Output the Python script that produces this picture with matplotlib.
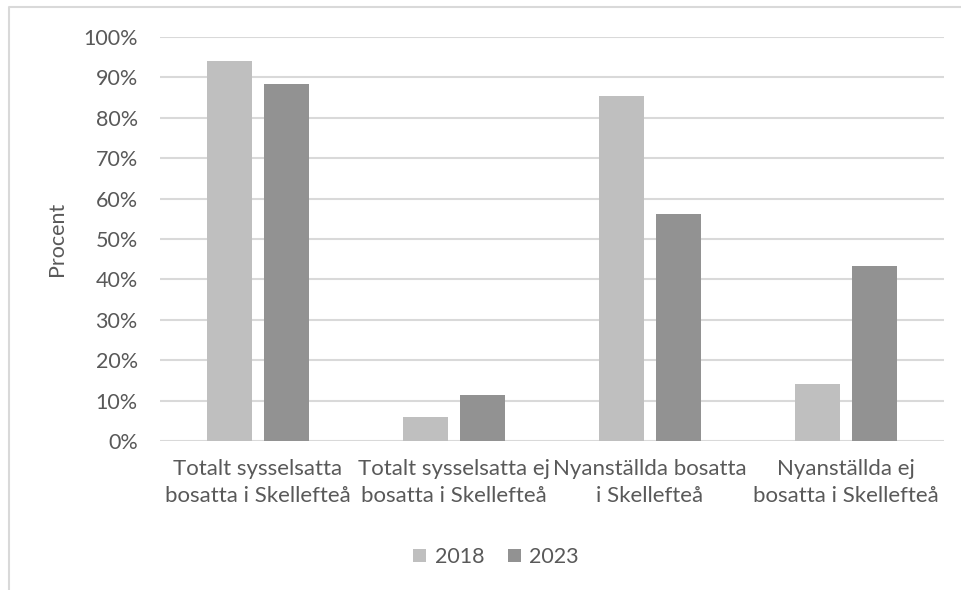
import matplotlib.pyplot as plt
import numpy as np
from matplotlib.lines import Line2D

plt.rcParams['font.family'] = ['Lato', 'DejaVu Sans']

categories = ["Totalt sysselsatta\nbosatta i Skellefteå",
              "Totalt sysselsatta ej\nbosatta i Skellefteå",
              "Nyanställda bosatta\ni Skellefteå",
              "Nyanställda ej\nbosatta i Skellefteå"]
years = ["2018", "2023"]
values_2018 = [0.940, 0.059, 0.854, 0.141]
values_2023 = [0.883, 0.113, 0.561, 0.434]
yticks = np.arange(0, 1.01, 0.1)

text_col = "#595959"
grid_col = "#D9D9D9"
colors = ["#BFBFBF", "#929292"]

fig = plt.figure(figsize=(9.62, 5.9), dpi=100)
ax = fig.add_axes([160 / 962, 1 - 441 / 590, 784 / 962, 404 / 590])

x = np.arange(len(categories))
w = 0.23
off = 0.145
ax.bar(x - off, values_2018, w, color=colors[0], label=years[0], zorder=3)
ax.bar(x + off, values_2023, w, color=colors[1], label=years[1], zorder=3)

ax.set_xlim(-0.5, len(categories) - 0.5)
ax.set_ylim(0, 1)
ax.set_yticks(yticks)
ax.set_yticklabels([f"{int(round(v * 100))}%" for v in yticks], fontsize=15.5)
ax.set_xticks(x)
ax.set_xticklabels(categories, linespacing=1.45, fontsize=16)
ax.grid(axis='y', color=grid_col, linewidth=1.5, zorder=0)
for s in ax.spines.values():
    s.set_visible(False)
ax.tick_params(axis='both', length=0, colors=text_col)
ax.tick_params(axis='y', pad=16)
ax.tick_params(axis='x', pad=13)
ax.set_ylabel("Procent", color=text_col, fontsize=15.5, labelpad=12)

leg = fig.legend(loc='center', bbox_to_anchor=(496 / 962, 1 - 557 / 590), ncol=2,
                 frameon=False, fontsize=15.5, handlelength=0.6, handleheight=0.6,
                 handletextpad=0.4, columnspacing=1.1)
for t in leg.get_texts():
    t.set_color(text_col)

# chart area border (only top and left visible)
fig.add_artist(Line2D([9 / 962, 9 / 962, 1], [0, 1 - 7 / 590, 1 - 7 / 590],
                      color=grid_col, linewidth=1.5, transform=fig.transFigure))

fig.savefig("out.png", dpi=100)
